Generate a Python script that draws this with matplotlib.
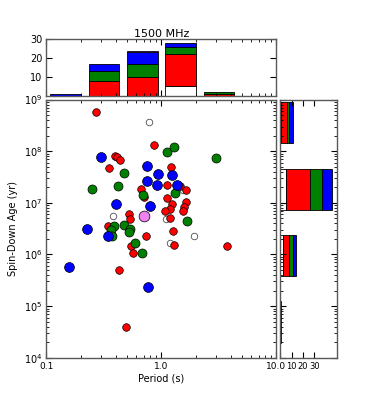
import numpy as np
import matplotlib
matplotlib.use('Agg')
import matplotlib.pyplot as plt
from matplotlib.ticker import FixedLocator, FixedFormatter, LogLocator, NullFormatter

# ---------------- data ----------------
red_P = [0.270, 0.863, 0.393, 0.414, 0.440, 0.351, 1.22, 1.12, 0.670, 0.711, 1.45, 1.64,
         1.11, 1.24, 1.20, 1.07, 1.65, 1.57, 1.55, 0.520, 0.530, 1.20, 0.346, 1.27, 0.740,
         0.548, 0.562, 1.28, 3.69, 0.43, 0.496]
red_age = [5.7e8, 1.29e8, 7.9e7, 7.8e7, 6.6e7, 4.8e7, 4.9e7, 2.23e7, 1.85e7, 1.27e7, 2.1e7, 1.74e7,
           1.22e7, 9.3e6, 7.7e6, 6.9e6, 1.05e7, 8.4e6, 6.8e6, 5.96e6, 4.9e6, 5.0e6, 3.6e6, 2.9e6, 2.3e6,
           1.49e6, 1.09e6, 1.56e6, 1.47e6, 4.9e5, 3.95e4]

green_P = [0.251, 0.42, 0.477, 1.13, 1.29, 3.0, 0.692, 1.32, 1.67, 0.477, 0.537, 0.526,
           0.387, 0.367, 0.372, 0.594, 0.682]
green_age = [1.85e7, 2.14e7, 3.77e7, 9.7e7, 1.22e8, 7.5e7, 1.41e7, 1.56e7, 4.4e6, 3.8e6, 3.1e6, 2.67e6,
             3.5e6, 2.96e6, 2.33e6, 1.66e6, 1.09e6]

blue_P = [0.296, 0.227, 0.341, 0.404, 0.745, 0.94, 1.23, 0.745, 0.91, 1.38, 0.80, 0.157, 0.766]
blue_age = [7.8e7, 3.1e6, 2.26e6, 9.4e6, 5.1e7, 3.65e7, 3.44e7, 2.7e7, 2.2e7, 2.23e7, 8.6e6, 5.6e5, 2.3e5]

violet_P = [0.711]
violet_age = [5.5e6]

open_P = [0.78, 0.382, 1.10, 1.19, 1.92, 1.53]
open_age = [3.6e8, 5.5e6, 4.9e6, 1.66e6, 2.3e6, 1.74e7]

# top histogram (period bins)
top_edges = [0.1, 0.2154, 0.4642, 1.0, 2.154, 4.642, 10.0]
top_white = [0, 0, 0, 5, 0, 0]
top_red = [0, 8, 10, 17, 1, 0]
top_green = [0, 5, 7, 4, 1, 0]
top_blue = [1, 4, 6, 2, 0, 0]
top_violet = [0, 0, 1, 0, 0, 0]

# right histogram (age bins, lower / upper bar limits)
right_lo = [10**4.29, 10**5.59, 10**6.87, 10**8.16]
right_hi = [10**5.09, 10**6.38, 10**7.65, 10**8.96]
right_white = [0, 2, 5, 1]
right_red = [1, 6, 21, 5]
right_green = [0, 3, 11, 2]
right_blue = [0, 3, 9, 3]
right_violet = [0, 0, 0, 0]

# ---------------- style ----------------
plt.rcParams['font.family'] = ['DejaVu Sans']
plt.rcParams['font.size'] = 7
plt.rcParams['xtick.direction'] = 'in'
plt.rcParams['ytick.direction'] = 'in'
plt.rcParams['xtick.top'] = True
plt.rcParams['ytick.right'] = True
plt.rcParams['xtick.major.size'] = 4
plt.rcParams['ytick.major.size'] = 4
plt.rcParams['xtick.minor.size'] = 2
plt.rcParams['ytick.minor.size'] = 2
plt.rcParams['xtick.major.pad'] = 3
plt.rcParams['ytick.major.pad'] = 3
plt.rcParams['axes.linewidth'] = 1.0
plt.rcParams['axes.edgecolor'] = '0.35'

fig = plt.figure(figsize=(3.74, 3.98), dpi=100)
ax = fig.add_axes([0.124, 0.101, 0.615, 0.649])
axt = fig.add_axes([0.124, 0.760, 0.615, 0.141], sharex=ax)
axr = fig.add_axes([0.7495, 0.101, 0.1516, 0.649], sharey=ax)

ec = 'black'
lw = 0.5
ax.scatter(open_P, open_age, s=22, facecolor='white', edgecolor='0.3', linewidth=0.6, zorder=2)
ax.scatter(red_P, red_age, s=30, facecolor='red', edgecolor=ec, linewidth=lw, zorder=3)
ax.scatter(green_P, green_age, s=42, facecolor='green', edgecolor=ec, linewidth=lw, zorder=4)
ax.scatter(blue_P, blue_age, s=50, facecolor='blue', edgecolor=ec, linewidth=lw, zorder=5)
ax.scatter(violet_P, violet_age, s=60, facecolor='violet', edgecolor=ec, linewidth=lw, zorder=6)

ax.set_xscale('log')
ax.set_yscale('log')
ax.set_xlim(0.1, 10.0)
ax.set_ylim(1e4, 1e9)
ax.xaxis.set_major_locator(FixedLocator([0.1, 1.0, 10.0]))
ax.xaxis.set_major_formatter(FixedFormatter(['0.1', '1.0', '10.0']))
ax.xaxis.set_minor_locator(LogLocator(base=10, subs=np.arange(2, 10)))
ax.xaxis.set_minor_formatter(NullFormatter())
ax.yaxis.set_minor_locator(LogLocator(base=10, subs=np.arange(2, 10)))
ax.yaxis.set_minor_formatter(NullFormatter())
ax.set_xlabel('Period (s)', fontsize=7, labelpad=2)
ax.set_ylabel('Spin-Down Age (yr)', fontsize=7, labelpad=4)

# top histogram
rw = 0.8
le = np.log10(top_edges)
lefts = 10 ** (le[:-1] + (1 - rw) / 2 * np.diff(le))
rights = 10 ** (le[1:] - (1 - rw) / 2 * np.diff(le))
widths = rights - lefts
bottom = np.zeros(len(lefts))
for vals, col in [(top_white, 'white'), (top_red, 'red'), (top_green, 'green'),
                  (top_blue, 'blue'), (top_violet, 'violet')]:
    v = np.array(vals, dtype=float)
    m = v > 0
    axt.bar(lefts[m], v[m], width=widths[m], bottom=bottom[m], align='edge',
            color=col, edgecolor='black', linewidth=0.6)
    bottom += v
axt.set_ylim(0, 30)
axt.set_yticks([10, 20, 30])
axt.tick_params(labelbottom=False)
axt.set_title('1500 MHz', fontsize=8, pad=2)

# right histogram
lo = np.array(right_lo)
hi = np.array(right_hi)
left = np.zeros(len(lo))
for vals, col in [(right_white, 'white'), (right_red, 'red'), (right_green, 'green'),
                  (right_blue, 'blue'), (right_violet, 'violet')]:
    v = np.array(vals, dtype=float)
    m = v > 0
    axr.barh(lo[m], v[m], height=(hi - lo)[m], left=left[m], align='edge',
             color=col, edgecolor='black', linewidth=0.6)
    left += v
axr.set_xlim(0, 50)
axr.set_xticks([0, 10, 20, 30])
axr.set_xticklabels(['', '10', '20', '30'])
axr.tick_params(labelleft=False)
axr.tick_params(axis='x', labelsize=6, pad=3)
ax.tick_params(axis='x', labelsize=6.5)

fig.savefig('out.png', dpi=100)
